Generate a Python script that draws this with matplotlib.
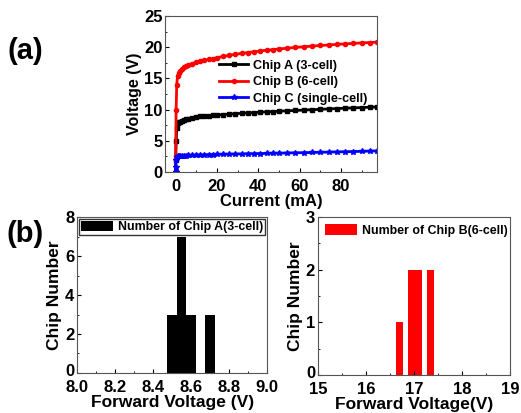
import matplotlib
matplotlib.use('Agg')
import matplotlib.pyplot as plt
import matplotlib.transforms as mtransforms
from matplotlib.ticker import MultipleLocator

plt.rcParams['font.family'] = ['Liberation Sans', 'DejaVu Sans']
plt.rcParams['font.weight'] = 'bold'
plt.rcParams['axes.labelweight'] = 'bold'

# I-V curves (current in mA, voltage in V)
current = [0, 0.1, 0.3, 0.6, 1, 1.5, 2, 3, 4, 5, 6, 8, 10, 12, 14, 16, 18, 20,
           23, 26, 29, 32, 35, 38, 41, 44, 47, 50, 54, 58, 62, 66, 70, 74,
           78, 82, 86, 90, 94, 97.5]
volt_a = [0, 2.0, 5.0, 7.0, 7.8, 7.95, 8.05, 8.2, 8.35, 8.45, 8.55, 8.7, 8.8,
          8.9, 8.97, 9.03, 9.08, 9.12, 9.2, 9.27, 9.34, 9.4, 9.46, 9.52, 9.58,
          9.63, 9.68, 9.73, 9.8, 9.86, 9.92, 9.98, 10.04, 10.1, 10.16, 10.22,
          10.27, 10.32, 10.38, 10.42]
volt_b = [0, 2.5, 10.0, 14.0, 15.4, 15.8, 16.1, 16.5, 16.75, 16.95, 17.1, 17.35,
          17.55, 17.72, 17.88, 18.02, 18.15, 18.3, 18.5, 18.68, 18.85, 19.0,
          19.13, 19.26, 19.38, 19.5, 19.6, 19.7, 19.83, 19.95, 20.06, 20.16,
          20.26, 20.35, 20.44, 20.52, 20.6, 20.67, 20.74, 20.8]
volt_c = [0, 0.8, 2.0, 2.35, 2.5, 2.55, 2.58, 2.6, 2.62, 2.64, 2.66, 2.69, 2.72,
          2.74, 2.76, 2.78, 2.8, 2.82, 2.84, 2.86, 2.88, 2.9, 2.92, 2.94, 2.96,
          2.98, 3.0, 3.02, 3.05, 3.08, 3.1, 3.13, 3.16, 3.19, 3.22, 3.25, 3.28,
          3.31, 3.35, 3.38]

# histogram of forward voltage
chip_a_vf = [8.50, 8.55, 8.60, 8.70]
chip_a_count = [3, 7, 3, 3]
chip_b_vf = [16.70, 16.95, 17.10, 17.34]
chip_b_count = [1, 2, 2, 2]

fig = plt.figure(figsize=(5.21, 4.13), dpi=100)

ax1 = fig.add_axes([0.317, 0.5835, 0.407, 0.378])
ax1.plot(current, volt_a, color='black', marker='s', markersize=3, lw=2,
         label='Chip A (3-cell)')
ax1.plot(current, volt_b, color='red', marker='o', markersize=3, lw=2,
         label='Chip B (6-cell)')
ax1.plot(current, volt_c, color='blue', marker='*', markersize=4, lw=2,
         label='Chip C (single-cell)')
ax1.set_xlim(-5, 97.5)
ax1.set_ylim(0, 25)
ax1.xaxis.set_major_locator(MultipleLocator(20))
ax1.xaxis.set_minor_locator(MultipleLocator(10))
ax1.yaxis.set_major_locator(MultipleLocator(5))
ax1.yaxis.set_minor_locator(MultipleLocator(2.5))
ax1.set_xlabel('Current (mA)', fontsize=12, labelpad=0)
ax1.set_ylabel('Voltage (V)', fontsize=11.5, labelpad=1)
ax1.legend(loc='center right', bbox_to_anchor=(0.99, 0.575), frameon=False,
           fontsize=9.1, handlelength=2.3, labelspacing=0.35, borderpad=0.1,
           handletextpad=0.4)

ax2 = fig.add_axes([0.148, 0.097, 0.365, 0.377])
ax2.bar(chip_a_vf, chip_a_count, width=0.05, color='black',
        label='Number of Chip A(3-cell)')
ax2.set_xlim(8.0, 9.0)
ax2.set_ylim(0, 8)
ax2.xaxis.set_major_locator(MultipleLocator(0.2))
ax2.xaxis.set_minor_locator(MultipleLocator(0.1))
ax2.yaxis.set_major_locator(MultipleLocator(2))
ax2.yaxis.set_minor_locator(MultipleLocator(1))
ax2.set_xlabel('Forward Voltage (V)', fontsize=12.5, labelpad=0)
ax2.set_ylabel('Chip Number', fontsize=12.5, labelpad=2)
ax2.legend(loc='upper left', fontsize=8.9, fancybox=False, edgecolor='black',
           borderpad=0.15, handlelength=2.6, handleheight=0.9,
           handletextpad=0.4, borderaxespad=0.15)

ax3 = fig.add_axes([0.610, 0.092, 0.369, 0.383])
ax3.bar(chip_b_vf, chip_b_count, width=0.14, color='red',
        label='Number of Chip B(6-cell)')
ax3.set_xlim(15, 19)
ax3.set_ylim(0, 3)
ax3.xaxis.set_major_locator(MultipleLocator(1))
ax3.xaxis.set_minor_locator(MultipleLocator(0.5))
ax3.yaxis.set_major_locator(MultipleLocator(1))
ax3.yaxis.set_minor_locator(MultipleLocator(0.5))
ax3.set_xlabel('Forward Voltage(V)', fontsize=12.5, labelpad=0)
ax3.set_ylabel('Chip Number', fontsize=12.5, labelpad=2)
ax3.legend(loc='upper left', fontsize=8.9, frameon=False, borderpad=0.3,
           handlelength=2.6, handleheight=0.9, handletextpad=0.4,
           borderaxespad=0.3)

for ax in (ax1, ax2, ax3):
    ax.tick_params(which='both', direction='in', labelsize=12)
    ax.tick_params(axis='x', pad=5)
    ax.tick_params(axis='y', pad=2)
    ax.tick_params(which='major', length=3)
    ax.tick_params(which='minor', length=1.5)
    for s in ax.spines.values():
        s.set_color('#555555')
        s.set_linewidth(0.8)

fig.text(0.048, 0.877, '(a)', fontsize=21, fontweight='bold', ha='center', va='center')
fig.text(0.048, 0.434, '(b)', fontsize=21, fontweight='bold', ha='center', va='center')

# lift the "0" y label of the histograms a little, as in the original
fig.canvas.draw()
lift = mtransforms.ScaledTranslation(0, 3 / 100, fig.dpi_scale_trans)
for ax in (ax2, ax3):
    for lab in ax.get_yticklabels():
        if lab.get_text() == '0':
            lab.set_transform(lab.get_transform() + lift)

fig.savefig('out.png', dpi=100)
